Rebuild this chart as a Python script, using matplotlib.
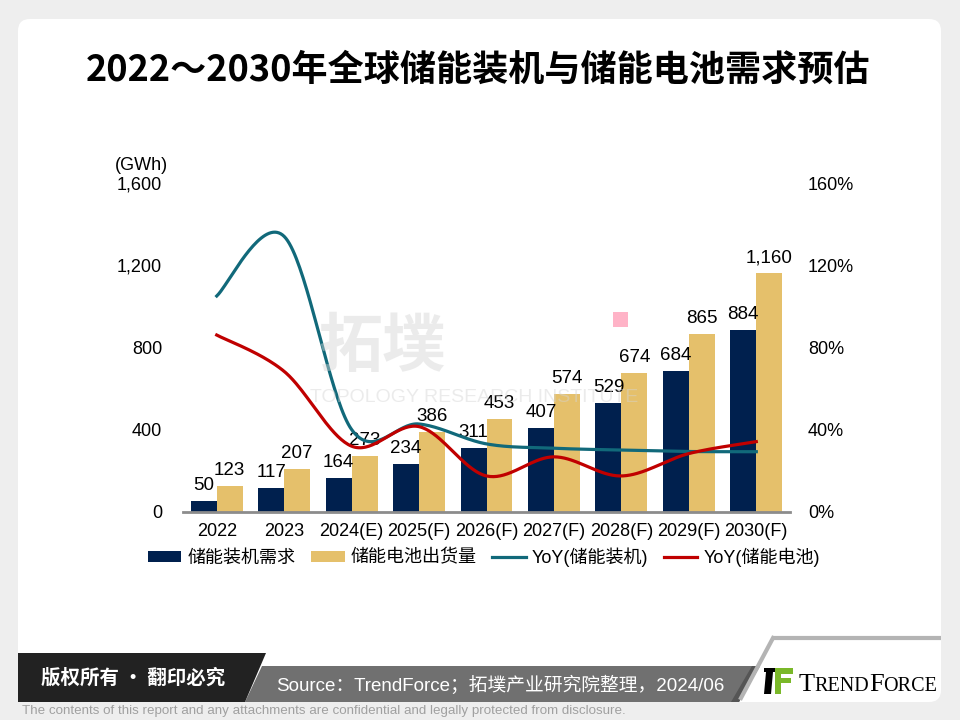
import numpy as np
import matplotlib
matplotlib.use("Agg")
import matplotlib.pyplot as plt
from matplotlib.patches import FancyBboxPatch, Polygon, Rectangle, Patch
from matplotlib.lines import Line2D
from matplotlib.ticker import FuncFormatter

plt.rcParams['font.family'] = ['Liberation Sans', 'Noto Sans CJK SC']

# ---- data ----
years = ["2022", "2023", "2024(E)", "2025(F)", "2026(F)", "2027(F)", "2028(F)", "2029(F)", "2030(F)"]
install = [50, 117, 164, 234, 311, 407, 529, 684, 884]          # 储能装机需求 (GWh)
battery = [123, 207, 273, 386, 453, 574, 674, 865, 1160]        # 储能电池出货量 (GWh)
yoy_install = [1.05, 1.34, 0.40, 0.427, 0.33, 0.309, 0.30, 0.293, 0.292]
yoy_battery = [0.86, 0.683, 0.319, 0.414, 0.174, 0.267, 0.174, 0.283, 0.341]

NAVY = "#00204e"
GOLD = "#e5c06b"
TEAL = "#11697a"
RED = "#c00000"
INK = "#000000"


def smooth(x, y, n=40):
    # Excel-style smoothed line (cubic Bezier through the points)
    pts = np.column_stack([x, y]).astype(float)
    P = np.vstack([pts[0], pts, pts[-1]])
    segs = []
    t = np.linspace(0, 1, n)[:, None]
    for i in range(1, len(P) - 2):
        p0, p1, p2, p3 = P[i - 1], P[i], P[i + 1], P[i + 2]
        c1 = p1 + (p2 - p0) / 6
        c2 = p2 - (p3 - p1) / 6
        segs.append((1 - t) ** 3 * p1 + 3 * (1 - t) ** 2 * t * c1 + 3 * (1 - t) * t ** 2 * c2 + t ** 3 * p2)
    s = np.vstack(segs)
    return s[:, 0], s[:, 1]


fig = plt.figure(figsize=(9.6, 7.2), dpi=100)
fig.patch.set_facecolor("#eeeeee")

# ---- background / frame in pixel coords ----
bg = fig.add_axes([0, 0, 1, 1], zorder=-5)
bg.set_xlim(0, 960); bg.set_ylim(720, 0); bg.axis("off")
bg.add_patch(FancyBboxPatch((18, 19), 923, 683, boxstyle="round,pad=0,rounding_size=12",
                            fc="white", ec="none"))
bg.text(478, 70, "2022～2030年全球储能装机与储能电池需求预估", ha="center", va="center",
        fontsize=26, fontweight="bold", family=["Noto Sans CJK SC"], color=INK)

# bottom banner
bg.add_patch(Polygon([(262, 666), (760, 666), (739, 702), (245, 702)], closed=True, fc="#707070", ec="none"))
bg.add_patch(Polygon([(752, 666), (760, 666), (739, 702), (731, 702)], closed=True, fc="#555555", ec="none"))
bg.add_patch(Polygon([(18, 653), (266, 653), (245, 702), (18, 702)], closed=True, fc="#222222", ec="none"))
bg.text(133, 678, "版权所有 · 翻印必究", ha="center", va="center", fontsize=14, fontweight="bold",
        color="white", family=["Noto Sans CJK SC"])
bg.text(276, 685, "Source：TrendForce；拓墣产业研究院整理，2024/06", ha="left", va="center",
        fontsize=13.5, color="white")
bg.plot([773, 941], [638, 638], color="#b4b4b4", lw=3, solid_capstyle="butt")
bg.plot([773, 741], [638, 698], color="#b4b4b4", lw=3)

# TrendForce logo
bg.add_patch(Rectangle((764, 668), 11, 4, fc="black", ec="none"))
bg.add_patch(Polygon([(766, 672), (773, 672), (771, 694), (764, 694)], closed=True, fc="black", ec="none"))
GREEN = "#7ab829"
bg.add_patch(Rectangle((775, 668), 18, 6, fc=GREEN, ec="none"))
bg.add_patch(Rectangle((775, 668), 6, 26, fc=GREEN, ec="none"))
bg.add_patch(Rectangle((775, 678), 16, 5, fc=GREEN, ec="none"))
r = fig.canvas.get_renderer()
xx = 799
for s, fs in [("T", 19), ("REND", 14.5), ("F", 19), ("ORCE", 14.5)]:
    tt = bg.text(xx, 691, s, ha="left", va="baseline", fontsize=fs, family="Liberation Serif", color="black")
    w = tt.get_window_extent(renderer=r).width
    xx += w - 0.5

bg.text(22, 711, "The contents of this report and any attachments are confidential and legally protected from disclosure.",
        ha="left", va="center", fontsize=9.6, color="#a0a0a0")

# ---- main chart ----
ax = fig.add_axes([183 / 960, 1 - 511.7 / 720, 607 / 960, 328.7 / 720])
ax.set_facecolor("none")
x = np.arange(len(years))
bw = 0.385
ax.bar(x - bw / 2, install, bw, color=NAVY, zorder=2)
ax.bar(x + bw / 2, battery, bw, color=GOLD, zorder=2)
for i in range(len(years)):
    ax.annotate(f"{install[i]:,}", (x[i] - bw / 2, install[i]), xytext=(0, 5), textcoords="offset points",
                ha="center", va="bottom", fontsize=13.5, color=INK, zorder=4)
    ax.annotate(f"{battery[i]:,}", (x[i] + bw / 2, battery[i]), xytext=(0, 5), textcoords="offset points",
                ha="center", va="bottom", fontsize=13.5, color=INK, zorder=4)
ax.set_xlim(-0.5, len(years) - 0.5)
ax.set_ylim(0, 1600)
ax.set_yticks([0, 400, 800, 1200, 1600])
ax.yaxis.set_major_formatter(FuncFormatter(lambda v, p: f"{int(v):,}"))
ax.set_xticks(x)
ax.set_xticklabels(years)
ax.tick_params(axis="y", length=0, pad=15, labelsize=13)
ax.tick_params(axis="x", length=0, pad=8, labelsize=13)
for side in ["top", "right", "left"]:
    ax.spines[side].set_visible(False)
ax.spines["bottom"].set_color("#8c8c8c")
ax.spines["bottom"].set_linewidth(2)

ax2 = ax.twinx()
ax2.set_ylim(0, 1.6)
ax2.set_yticks([0, 0.4, 0.8, 1.2, 1.6])
ax2.yaxis.set_major_formatter(FuncFormatter(lambda v, p: f"{v * 100:.0f}%"))
ax2.tick_params(axis="y", length=0, pad=13, labelsize=13)
for side in ["top", "right", "left", "bottom"]:
    ax2.spines[side].set_visible(False)
sx, sy = smooth(x, yoy_install)
ax2.plot(sx, sy, color=TEAL, lw=2.3, zorder=3)
sx, sy = smooth(x, yoy_battery)
ax2.plot(sx, sy, color=RED, lw=2.3, zorder=3)

fig.text(115 / 960, 1 - 165 / 720, "(GWh)", ha="left", va="center", fontsize=13)

handles = [Patch(fc=NAVY), Patch(fc=GOLD), Line2D([], [], color=TEAL, lw=2.3), Line2D([], [], color=RED, lw=2.3)]
labels = ["储能装机需求", "储能电池出货量", "YoY(储能装机)", "YoY(储能电池)"]
fig.legend(handles, labels, loc="center", bbox_to_anchor=(484 / 960, 1 - 557 / 720), ncol=4,
           frameon=False, fontsize=13, handlelength=1.85, handleheight=0.5, handletextpad=0.35,
           columnspacing=0.85, borderpad=0)

# ---- watermark overlay ----
top = fig.add_axes([0, 0, 1, 1], zorder=10)
top.set_xlim(0, 960); top.set_ylim(720, 0); top.axis("off")
top.patch.set_alpha(0)
top.text(382, 347, "拓墣", ha="center", va="center", fontsize=46, fontweight="bold",
         family=["Noto Sans CJK SC"], color="#d4d4d4", alpha=0.45)
top.text(474, 398, "TOPOLOGY RESEARCH INSTITUTE", ha="center", va="center", fontsize=14,
         color="#d4d4d4", alpha=0.45)
top.add_patch(Rectangle((613, 312), 15, 15, fc="#ffb3c7", ec="none"))

fig.savefig("out.png", dpi=100)
